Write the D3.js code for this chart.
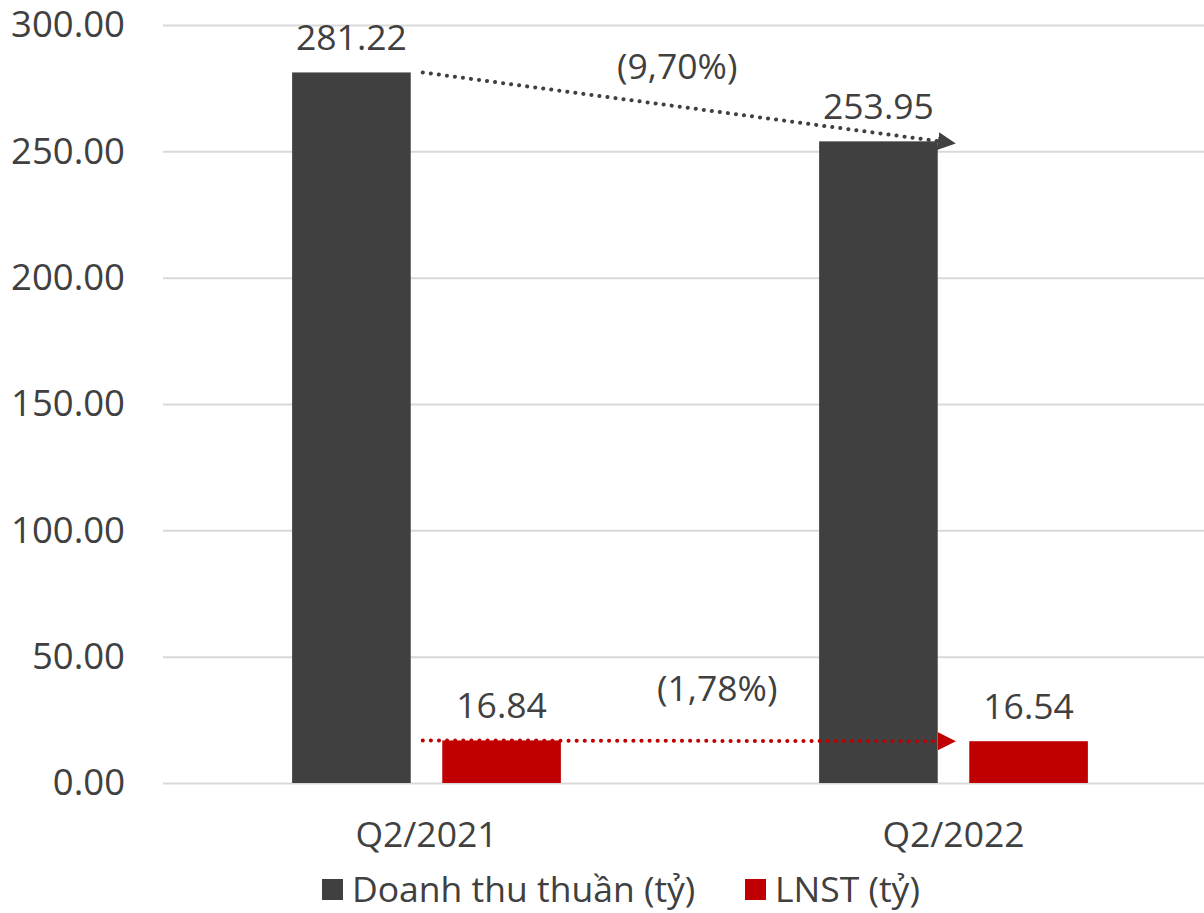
<!DOCTYPE html>
<html>
<head>
<meta charset="utf-8">
<script src="https://cdn.jsdelivr.net/npm/d3@7"></script>
<style>
  body { margin: 0; background: #fff; }
  text { font-family: "Open Sans", "Noto Sans", sans-serif; fill: #404040; }
</style>
</head>
<body>
<div id="chart"></div>
<script>
var categories = ["Q2/2021", "Q2/2022"];
var seriesNames = ["Doanh thu thuần (tỷ)", "LNST (tỷ)"];
var revenue = [281.22, 253.95];
var profit = [16.84, 16.54];
var yTicks = [0, 50, 100, 150, 200, 250, 300];
var colors = ["#404040", "#c00000"];

var width = 1204, height = 913;
var plotLeft = 163, plotRight = 1217;

var series = [revenue, profit];

var svg = d3.select("#chart").append("svg")
    .attr("width", width)
    .attr("height", height);

var y = d3.scaleLinear().domain([0, 300]).range([783, 25]);

var x0 = d3.scaleBand()
    .domain(categories)
    .range([plotLeft, plotRight])
    .paddingInner(0.49)
    .paddingOuter(0.245);

var x1 = d3.scaleBand()
    .domain(d3.range(series.length))
    .range([0, x0.bandwidth()])
    .paddingInner(0.21);

// gridlines + y labels
var yAxis = d3.axisLeft(y)
    .tickValues(yTicks)
    .tickSize(-(width - plotLeft))
    .tickPadding(38)
    .tickFormat(d3.format(".2f"));

var gy = svg.append("g")
    .attr("transform", "translate(" + plotLeft + ",0)")
    .call(yAxis);
gy.select(".domain").remove();
gy.selectAll("line").attr("stroke", "#d9d9d9").attr("stroke-width", 2);
gy.selectAll("text")
    .style("font-size", "36.5px")
    .attr("fill", "#404040");

// bars
var groups = svg.selectAll("g.group")
    .data(categories)
    .enter().append("g")
    .attr("class", "group")
    .attr("transform", function(d) { return "translate(" + x0(d) + ",0)"; });

groups.selectAll("rect")
    .data(function(d, i) { return series.map(function(s, k) { return { k: k, v: s[i] }; }); })
    .enter().append("rect")
    .attr("x", function(d) { return x1(d.k); })
    .attr("width", x1.bandwidth())
    .attr("y", function(d) { return y(d.v); })
    .attr("height", function(d) { return y(0) - y(d.v); })
    .attr("fill", function(d) { return colors[d.k]; });

groups.selectAll("text.val")
    .data(function(d, i) { return series.map(function(s, k) { return { k: k, v: s[i] }; }); })
    .enter().append("text")
    .attr("class", "val")
    .attr("x", function(d) { return x1(d.k) + x1.bandwidth() / 2; })
    .attr("y", function(d) { return y(d.v) - 22; })
    .attr("text-anchor", "middle")
    .style("font-size", "35.5px")
    .text(function(d) { return d3.format(".2f")(d.v); });

// x labels
svg.selectAll("text.cat")
    .data(categories)
    .enter().append("text")
    .attr("class", "cat")
    .attr("x", function(d) { return x0(d) + x0.bandwidth() / 2; })
    .attr("y", 847)
    .attr("text-anchor", "middle")
    .style("font-size", "35.5px")
    .text(function(d) { return d; });

// change arrows
var defs = svg.append("defs");
colors.forEach(function(c, k) {
    defs.append("marker")
        .attr("id", "arr" + k)
        .attr("viewBox", "0 0 10 10")
        .attr("refX", 1).attr("refY", 5)
        .attr("markerWidth", 4.5).attr("markerHeight", 4.5)
        .attr("markerUnits", "strokeWidth")
        .attr("orient", "auto")
        .append("path")
        .attr("d", "M0,0L10,5L0,10Z")
        .attr("fill", c);
});

var pctFmt = function(a, b) {
    var p = (b - a) / a * 100;
    var s = d3.format(".2f")(Math.abs(p)).replace(".", ",") + "%";
    return p < 0 ? "(" + s + ")" : s;
};

var labelShift = [[-4, -40], [36, -52]];

series.forEach(function(s, k) {
    var xa = x0(categories[0]) + x1(0) + x1.bandwidth() + 12;
    var xb = x0(categories[1]) + x1(0) + x1.bandwidth() + 2;
    var ya = y(s[0]), yb = y(s[1]);
    svg.append("line")
        .attr("x1", xa).attr("y1", ya)
        .attr("x2", xb).attr("y2", yb)
        .attr("stroke", colors[k])
        .attr("stroke-width", 4)
        .attr("stroke-linecap", "round")
        .attr("stroke-dasharray", "0.1 8")
        .attr("marker-end", "url(#arr" + k + ")");
    svg.append("text")
        .attr("x", (xa + xb) / 2 + labelShift[k][0])
        .attr("y", (ya + yb) / 2 + labelShift[k][1] + 12)
        .attr("text-anchor", "middle")
        .style("font-size", "35.5px")
        .text(pctFmt(s[0], s[1]));
});

// legend
var legendX = [322, 745];
var leg = svg.selectAll("g.leg")
    .data(seriesNames)
    .enter().append("g")
    .attr("class", "leg")
    .attr("transform", function(d, i) { return "translate(" + legendX[i] + ",879)"; });
leg.append("rect")
    .attr("width", 21).attr("height", 21)
    .attr("fill", function(d, i) { return colors[i]; });
leg.append("text")
    .attr("x", 30).attr("y", 23)
    .style("font-size", "35.5px")
    .text(function(d) { return d; });
</script>
</body>
</html>
